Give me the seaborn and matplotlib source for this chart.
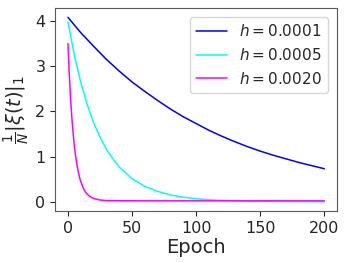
import numpy as np
import pandas as pd
import seaborn as sns
import matplotlib
matplotlib.use("Agg")
import matplotlib.pyplot as plt

# values
epochs_slow = [0, 10, 20, 30, 40, 50, 60, 70, 80, 90, 100, 110, 120, 130,
               140, 150, 160, 170, 180, 190, 200]
xi_h0001 = [4.08, 3.74, 3.44, 3.15, 2.89, 2.65, 2.44, 2.24, 2.05, 1.88, 1.73,
            1.58, 1.45, 1.33, 1.22, 1.12, 1.03, 0.95, 0.87, 0.80, 0.73]

epochs_mid = [0, 5, 10, 15, 20, 25, 30, 35, 40, 50, 60, 70, 80, 90, 100, 110,
              120, 130, 140, 150, 160, 170, 180, 190, 200]
xi_h0005 = [3.98, 3.24, 2.64, 2.15, 1.75, 1.43, 1.16, 0.95, 0.77, 0.51, 0.34,
            0.23, 0.15, 0.10, 0.066, 0.044, 0.029, 0.019, 0.013, 0.008, 0.006,
            0.004, 0.003, 0.002, 0.001]

epochs_fast = [0, 1, 2, 3, 4, 5, 6, 7, 8, 9, 10, 12, 14, 16, 18, 20, 25, 30,
               40, 50, 60, 80, 100, 120, 140, 160, 180, 200]
xi_h0020 = [3.50, 2.83, 2.30, 1.87, 1.52, 1.23, 1.00, 0.82, 0.67, 0.54, 0.445,
            0.30, 0.20, 0.14, 0.10, 0.072, 0.038, 0.026, 0.022, 0.021, 0.02,
            0.02, 0.02, 0.02, 0.02, 0.02, 0.02, 0.02]

labels = [r'$h = 0.0001$', r'$h = 0.0005$', r'$h = 0.0020$']
colors = ['blue', 'cyan', 'magenta']

df = pd.concat([
    pd.DataFrame({'epoch': epochs_slow, 'xi': xi_h0001, 'h': labels[0]}),
    pd.DataFrame({'epoch': epochs_mid, 'xi': xi_h0005, 'h': labels[1]}),
    pd.DataFrame({'epoch': epochs_fast, 'xi': xi_h0020, 'h': labels[2]}),
], ignore_index=True)

sns.set_style("ticks")
plt.rcParams['font.family'] = ['DejaVu Sans']

fig, ax = plt.subplots(figsize=(3.49, 2.62), dpi=100)
fig.subplots_adjust(left=0.158, right=0.966, bottom=0.195, top=0.969)

sns.lineplot(data=df, x='epoch', y='xi', hue='h', hue_order=labels,
             palette=colors, linewidth=1.1, ax=ax, sort=False)

ax.set_xticks([0, 50, 100, 150, 200])
ax.set_yticks([0, 1, 2, 3, 4])
ax.tick_params(labelsize=11.5, length=3.5, width=0.8, colors='0.15')
ax.set_xlabel('Epoch', fontsize=14, labelpad=2)
ax.set_ylabel(r'$\frac{1}{N}|\xi(t)|_1$', fontsize=14, labelpad=2)
for s in ax.spines.values():
    s.set_color('0.35')

ax.legend(title=None, fontsize=11, loc='upper right', borderaxespad=0.6)

plt.savefig('out.png', dpi=100)
plt.close()
